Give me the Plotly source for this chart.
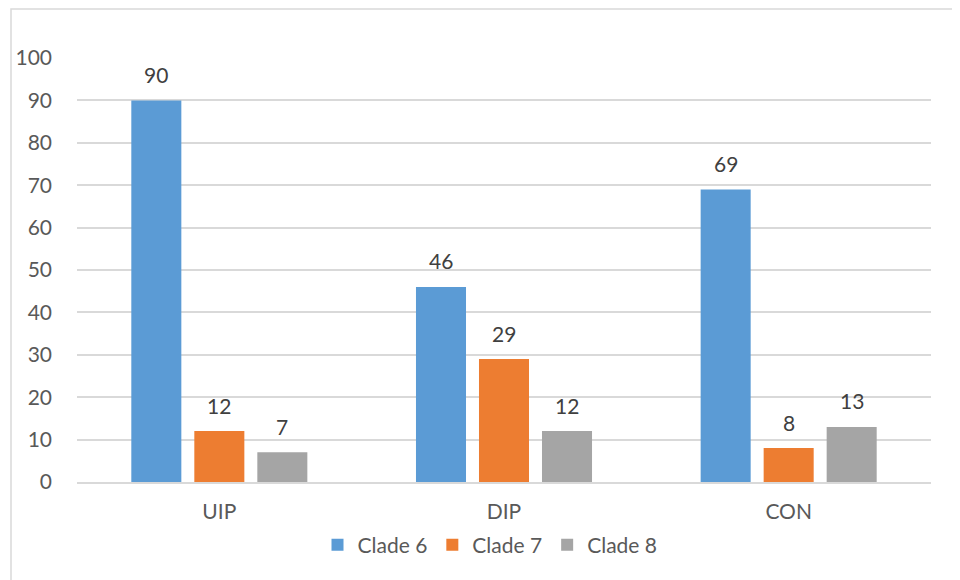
import plotly.graph_objects as go

categories = ["UIP", "DIP", "CON"]
clade6 = [90, 46, 69]
clade7 = [12, 29, 8]
clade8 = [7, 12, 13]
series_names = ["Clade 6", "Clade 7", "Clade 8"]
colors = ["#5B9BD5", "#ED7D31", "#A5A5A5"]
y_ticks = list(range(0, 101, 10))

font_family = "Lato, 'Open Sans', sans-serif"
txt_color = "#595959"
FS = 21

# page body has an 8px margin, so the figure is a little smaller
W, H = 952, 572
L, R, T, B = 69, 29, 50, 98
pw, ph = W - L - R, H - T - B

bargap, bargroupgap = 0.336, 0.206
cat_px = pw / len(categories)
slot_px = cat_px * (1 - bargap) / len(series_names)

fig = go.Figure()
annotations = []
all_series = [clade6, clade7, clade8]
for i, (name, vals, col) in enumerate(zip(series_names, all_series, colors)):
    fig.add_trace(go.Bar(
        x=categories, y=vals, name=name,
        marker=dict(color=col, line=dict(width=0)),
        hoverinfo="x+y+name",
    ))
    offset = (i - (len(series_names) - 1) / 2) * slot_px
    for c, v in zip(categories, vals):
        annotations.append(dict(
            x=c, y=v, xref="x", yref="y", text=str(v), showarrow=False,
            xshift=offset, yshift=26, yanchor="middle", xanchor="center",
            font=dict(size=FS, color="#404040", family=font_family),
        ))

fig.update_layout(
    width=W, height=H,
    margin=dict(l=L, r=R, t=T, b=B, autoexpand=False),
    paper_bgcolor="white", plot_bgcolor="white",
    barmode="group", bargap=bargap, bargroupgap=bargroupgap,
    font=dict(family=font_family, size=FS, color=txt_color),
    showlegend=True,
    legend=dict(orientation="h", x=(482 - L) / pw, xanchor="center",
                y=-63 / ph, yanchor="middle",
                font=dict(size=FS, color=txt_color), itemwidth=30,
                traceorder="normal"),
    xaxis=dict(showgrid=False, showline=True, linecolor="#D9D9D9", linewidth=1.5,
               automargin=False,
               ticks="", ticklabelstandoff=10, tickfont=dict(size=FS, color=txt_color)),
    yaxis=dict(range=[0, 100], tickvals=y_ticks, showgrid=True, gridcolor="#D9D9D9",
               gridwidth=1.5, zeroline=False, showline=False, ticks="",
               automargin=False,
               ticklabelstandoff=24, tickfont=dict(size=FS, color=txt_color)),
    annotations=annotations,
    shapes=[dict(type="rect", xref="paper", yref="paper",
                 x0=(3 - L) / pw, x1=1.3, y0=-0.6, y1=(ph + T - 1) / ph,
                 line=dict(color="#D9D9D9", width=1.5), fillcolor="rgba(0,0,0,0)",
                 layer="below")],
)

fig.write_html("out.html")
